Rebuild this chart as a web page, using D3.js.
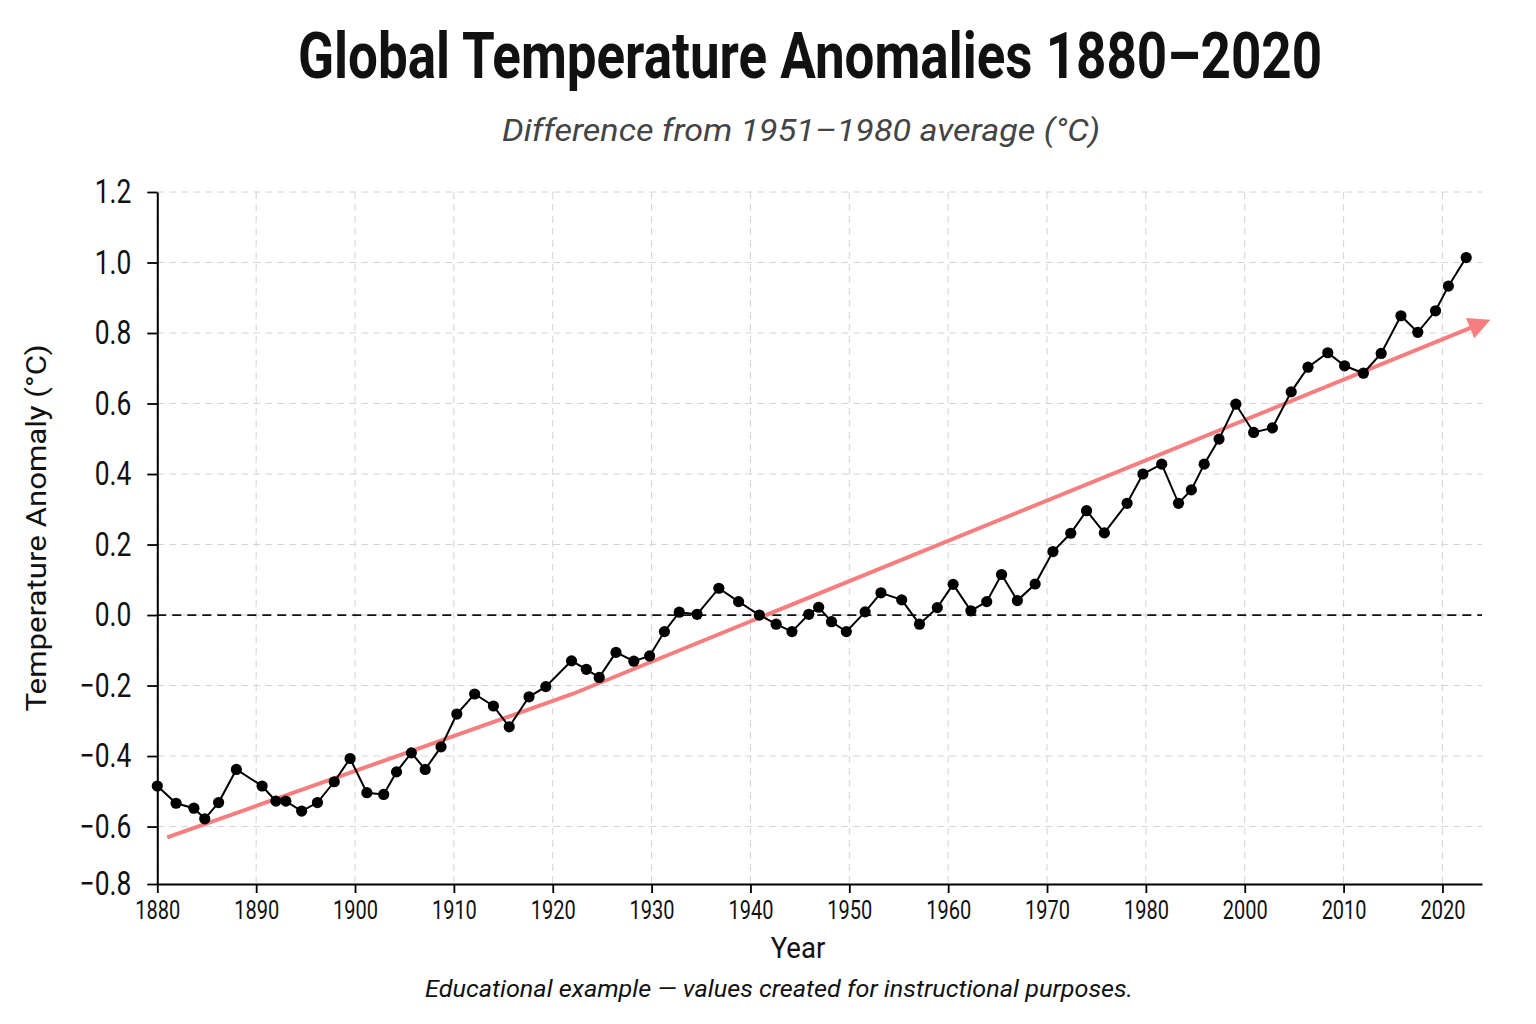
<!DOCTYPE html>
<html>
<head>
<meta charset="utf-8">
<script src="https://cdn.jsdelivr.net/npm/d3@7"></script>
<style>
  body { margin: 0; background: #ffffff; }
  svg { display: block; }
  text { font-family: Roboto, "Liberation Sans", sans-serif; fill: #111; }
</style>
</head>
<body>
<div id="chart"></div>
<script>
var width = 1536;
var height = 1024;

// anomaly series (decimal years)
var years = [1880.0, 1881.9, 1883.7, 1884.8, 1886.2, 1888.0, 1890.6, 1892.0, 1893.0, 1894.6,
  1896.2, 1897.9, 1899.5, 1901.2, 1902.9, 1904.2, 1905.7, 1907.1, 1908.7, 1910.3,
  1912.1, 1914.0, 1915.6, 1917.6, 1919.3, 1921.9, 1923.4, 1924.7, 1926.4, 1928.2,
  1929.8, 1931.3, 1932.8, 1934.6, 1936.8, 1938.8, 1940.9, 1942.6, 1944.2, 1945.9,
  1946.9, 1948.2, 1949.7, 1951.6, 1953.2, 1955.3, 1957.1, 1958.9, 1960.5, 1962.3,
  1963.9, 1965.4, 1967.0, 1968.8, 1970.6, 1972.4, 1974.0, 1975.8, 1978.1, 1979.7,
  1981.6, 1983.3, 1984.6, 1985.9, 1987.4, 1989.1, 1990.9, 1992.8, 1994.7, 1996.4,
  1998.4, 2000.1, 2002.0, 2003.8, 2005.8, 2007.5, 2009.3, 2010.6, 2012.4];
var anomalies = [-0.485, -0.534, -0.548, -0.578, -0.532, -0.438, -0.485, -0.528, -0.528, -0.556,
  -0.532, -0.473, -0.407, -0.504, -0.509, -0.445, -0.391, -0.438, -0.374, -0.281,
  -0.224, -0.258, -0.317, -0.232, -0.203, -0.130, -0.154, -0.177, -0.106, -0.131,
  -0.116, -0.047, 0.008, 0.002, 0.076, 0.038, 0.000, -0.026, -0.047, 0.002,
  0.022, -0.019, -0.047, 0.009, 0.063, 0.043, -0.026, 0.021, 0.087, 0.012,
  0.038, 0.115, 0.041, 0.088, 0.180, 0.232, 0.296, 0.233, 0.317, 0.400,
  0.428, 0.317, 0.355, 0.428, 0.499, 0.598, 0.518, 0.531, 0.633, 0.703,
  0.744, 0.707, 0.686, 0.742, 0.849, 0.802, 0.863, 0.933, 1.014];

// trend line
var trendYears = [1881.0, 1922.0, 2014.2];
var trendValues = [-0.631, -0.224, 0.830];

// axes
var xTickValues = [1880, 1890, 1900, 1910, 1920, 1930, 1940, 1950, 1960, 1970, 1980, 1990, 2000, 2010];
var xTickLabels = ["1880", "1890", "1900", "1910", "1920", "1930", "1940", "1950", "1960", "1970", "1980", "2000", "2010", "2020"];
var yTickValues = [1.2, 1.0, 0.8, 0.6, 0.4, 0.2, 0.0, -0.2, -0.4, -0.6, -0.763];
var yTickLabels = ["1.2", "1.0", "0.8", "0.6", "0.4", "0.2", "0.0", "\u22120.2", "\u22120.4", "\u22120.6", "\u22120.8"];

var plotLeft = 157.3, plotRight = 1482, plotTop = 192, plotBottom = 884;

// squeeze text horizontally to mimic a condensed face
function condense(sel, k) {
  sel.each(function() {
    var w = this.getComputedTextLength();
    d3.select(this).attr("textLength", w * k).attr("lengthAdjust", "spacingAndGlyphs");
  });
}

var svg = d3.select("#chart")
  .append("svg")
  .attr("width", width)
  .attr("height", height);

svg.append("rect").attr("width", width).attr("height", height).attr("fill", "#ffffff");

var x = d3.scaleLinear().domain([1880, 2014]).range([plotLeft, plotRight]);
var y = d3.scaleLinear().domain([-0.763, 1.2]).range([plotBottom, plotTop]);

// grid
svg.append("g")
  .selectAll("line")
  .data(yTickValues.slice(0, -1))
  .enter()
  .append("line")
  .attr("x1", plotLeft).attr("x2", plotRight)
  .attr("y1", function(d) { return y(d); })
  .attr("y2", function(d) { return y(d); })
  .attr("stroke", "#d4d4d4")
  .attr("stroke-width", 1)
  .attr("stroke-dasharray", "7,5");

svg.append("g")
  .selectAll("line")
  .data(xTickValues)
  .enter()
  .append("line")
  .attr("y1", plotTop).attr("y2", plotBottom)
  .attr("x1", function(d) { return x(d); })
  .attr("x2", function(d) { return x(d); })
  .attr("stroke", "#d4d4d4")
  .attr("stroke-width", 1)
  .attr("stroke-dasharray", "7,5");

// zero line
svg.append("line")
  .attr("x1", plotLeft).attr("x2", plotRight)
  .attr("y1", y(0)).attr("y2", y(0))
  .attr("stroke", "#111")
  .attr("stroke-width", 1.7)
  .attr("stroke-dasharray", "9,6");

// trend with arrow
var trendColor = "#f77e7e";
svg.append("defs").append("marker")
  .attr("id", "arrow")
  .attr("viewBox", "0 0 10 10")
  .attr("markerUnits", "userSpaceOnUse")
  .attr("markerWidth", 25)
  .attr("markerHeight", 22)
  .attr("refX", 6.8)
  .attr("refY", 5)
  .attr("orient", "auto")
  .append("path")
  .attr("d", "M0,0 L10,5 L0,10 z")
  .attr("fill", trendColor);

var trendLine = d3.line()
  .x(function(d, i) { return x(trendYears[i]); })
  .y(function(d) { return y(d); });

svg.append("path")
  .datum(trendValues)
  .attr("d", trendLine)
  .attr("fill", "none")
  .attr("stroke", trendColor)
  .attr("stroke-width", 4)
  .attr("marker-end", "url(#arrow)");

// data
var line = d3.line()
  .x(function(d, i) { return x(years[i]); })
  .y(function(d) { return y(d); });

svg.append("path")
  .datum(anomalies)
  .attr("d", line)
  .attr("fill", "none")
  .attr("stroke", "#000")
  .attr("stroke-width", 2);

svg.append("g")
  .selectAll("circle")
  .data(anomalies)
  .enter()
  .append("circle")
  .attr("cx", function(d, i) { return x(years[i]); })
  .attr("cy", function(d) { return y(d); })
  .attr("r", 5.6)
  .attr("fill", "#000");

// axes
var xAxis = svg.append("g")
  .attr("transform", "translate(0," + plotBottom + ")")
  .call(d3.axisBottom(x)
    .tickValues(xTickValues)
    .tickSize(9)
    .tickSizeOuter(0)
    .tickPadding(8)
    .tickFormat(function(d, i) { return xTickLabels[i]; }));
xAxis.selectAll("text")
  .style("font-family", "Roboto, sans-serif")
  .style("font-size", "25px")
  .attr("fill", "#111")
  .call(condense, 0.8);

var yAxis = svg.append("g")
  .attr("transform", "translate(" + plotLeft + ",0)")
  .call(d3.axisLeft(y)
    .tickValues(yTickValues)
    .tickSize(10)
    .tickSizeOuter(0)
    .tickPadding(16)
    .tickFormat(function(d, i) { return yTickLabels[i]; }));
yAxis.selectAll("text")
  .style("font-family", "Roboto, sans-serif")
  .style("font-size", "33px")
  .attr("fill", "#111")
  .call(condense, 0.8);

svg.selectAll(".domain").attr("stroke", "#000").attr("stroke-width", 2);
svg.selectAll(".tick line").attr("stroke", "#000").attr("stroke-width", 1.8);

// titles
svg.append("text")
  .attr("x", 810).attr("y", 78)
  .attr("text-anchor", "middle")
  .attr("textLength", 1024)
  .attr("lengthAdjust", "spacingAndGlyphs")
  .style("font-size", "64px")
  .style("font-weight", "bold")
  .text("Global Temperature Anomalies 1880\u20132020");

svg.append("text")
  .attr("x", 801).attr("y", 141)
  .attr("text-anchor", "middle")
  .attr("textLength", 598)
  .attr("lengthAdjust", "spacingAndGlyphs")
  .style("font-size", "31px")
  .style("font-style", "italic")
  .style("fill", "#444")
  .text("Difference from 1951\u20131980 average (\u00b0C)");

svg.append("text")
  .attr("transform", "translate(46,528) rotate(-90)")
  .attr("text-anchor", "middle")
  .attr("textLength", 367)
  .attr("lengthAdjust", "spacingAndGlyphs")
  .style("font-size", "28px")
  .text("Temperature Anomaly (\u00b0C)");

svg.append("text")
  .attr("x", 798).attr("y", 958)
  .attr("text-anchor", "middle")
  .style("font-size", "30px")
  .text("Year")
  .call(condense, 0.92);

svg.append("text")
  .attr("x", 779).attr("y", 997)
  .attr("text-anchor", "middle")
  .attr("textLength", 708)
  .attr("lengthAdjust", "spacingAndGlyphs")
  .style("font-size", "23px")
  .style("font-style", "italic")
  .text("Educational example \u2014 values created for instructional purposes.");
</script>
</body>
</html>
